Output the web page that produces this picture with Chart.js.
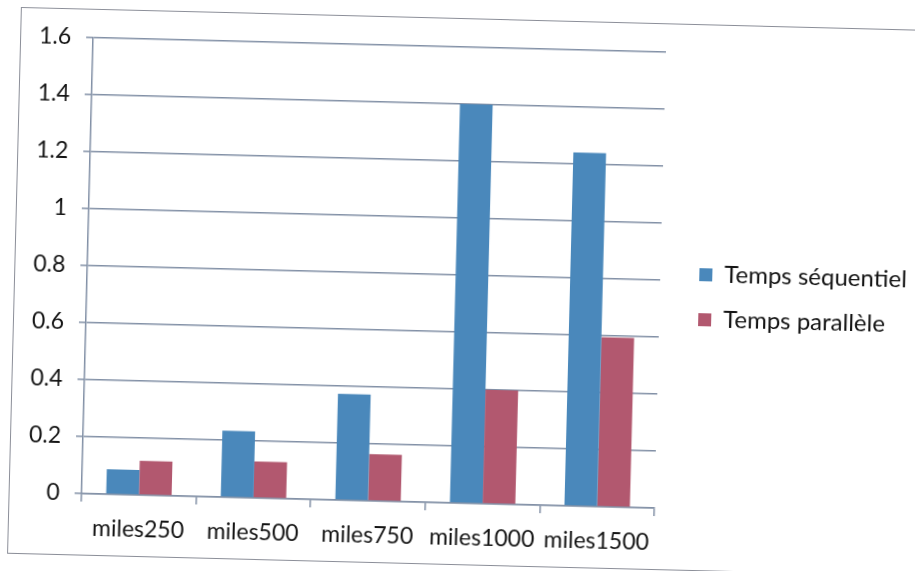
<!DOCTYPE html>
<html>
<head>
<meta charset="utf-8">
<script src="https://cdn.jsdelivr.net/npm/chart.js@4.4.1/dist/chart.umd.min.js"></script>
<style>
  html, body { margin: 0; padding: 0; background: #fff; overflow: hidden; }
  #sheet {
    position: absolute; left: 0; top: 0; width: 915px; height: 571px;
    transform: rotate(1.45deg); transform-origin: 457px 285px;
  }
  #frame {
    position: absolute; left: 14px; top: 18px; width: 930px; height: 545px;
    border: 1.5px solid #8c8f99;
  }
  #chart { position: absolute; left: 0; top: 0; }
</style>
</head>
<body>
<div id="sheet">
  <div id="frame"></div>
  <canvas id="chart" width="915" height="571"></canvas>
</div>
<script>
// Run times per test file
const categories = ['miles250', 'miles500', 'miles750', 'miles1000', 'miles1500'];
const sequentialTimes = [0.088, 0.233, 0.373, 1.40, 1.24];
const parallelTimes = [0.12, 0.128, 0.164, 0.40, 0.595];
const yTickLabels = ['0', '0.2', '0.4', '0.6', '0.8', '1', '1.2', '1.4', '1.6'];

const colors = {
    sequential: '#4a88bb',
    parallel: '#b2586f',
    grid: '#8290a6',
    text: '#141414'
};

Chart.defaults.font.family = "Lato, 'Open Sans', sans-serif";
Chart.defaults.color = colors.text;

// move the legend block right of the plot and up a bit; keep room for the text
const legendNudge = {
    id: 'legendNudge',
    afterLayout(chart) {
        const lg = chart.legend;
        lg.left += 18;
        lg.right = chart.width;
        lg.top -= 18; lg.bottom -= 18;
    }
};

new Chart(document.getElementById('chart'), {
    type: 'bar',
    data: {
        labels: categories,
        datasets: [
            {
                label: 'Temps séquentiel',
                data: sequentialTimes,
                backgroundColor: colors.sequential,
                categoryPercentage: 0.571,
                barPercentage: 1
            },
            {
                label: 'Temps parallèle',
                data: parallelTimes,
                backgroundColor: colors.parallel,
                categoryPercentage: 0.571,
                barPercentage: 1
            }
        ]
    },
    options: {
        responsive: false,
        animation: false,
        layout: { padding: { left: 0, top: 47, right: 35, bottom: 0 } },
        plugins: {
            legend: {
                position: 'right',
                labels: {
                    boxWidth: 13,
                    boxHeight: 13,
                    padding: 21,
                    color: colors.text,
                    font: { size: 24 }
                }
            },
            tooltip: { enabled: false }
        },
        scales: {
            x: {
                grid: {
                    drawOnChartArea: false,
                    color: colors.grid,
                    lineWidth: 1.5,
                    tickLength: 8
                },
                border: { color: colors.grid, width: 1.5 },
                ticks: { padding: 13, font: { size: 23 }, color: colors.text, maxRotation: 0 },
                afterFit(scale) { scale.height = 68; }
            },
            y: {
                min: 0,
                max: 1.6,
                grid: { color: colors.grid, lineWidth: 1.5, tickLength: 7 },
                border: { color: colors.grid, width: 1.5 },
                ticks: {
                    stepSize: 0.2,
                    padding: 15,
                    font: { size: 23 },
                    color: colors.text,
                    callback: (value, i) => yTickLabels[i]
                },
                afterFit(scale) { scale.width = 87; }
            }
        }
    },
    plugins: [legendNudge]
});
</script>
</body>
</html>
